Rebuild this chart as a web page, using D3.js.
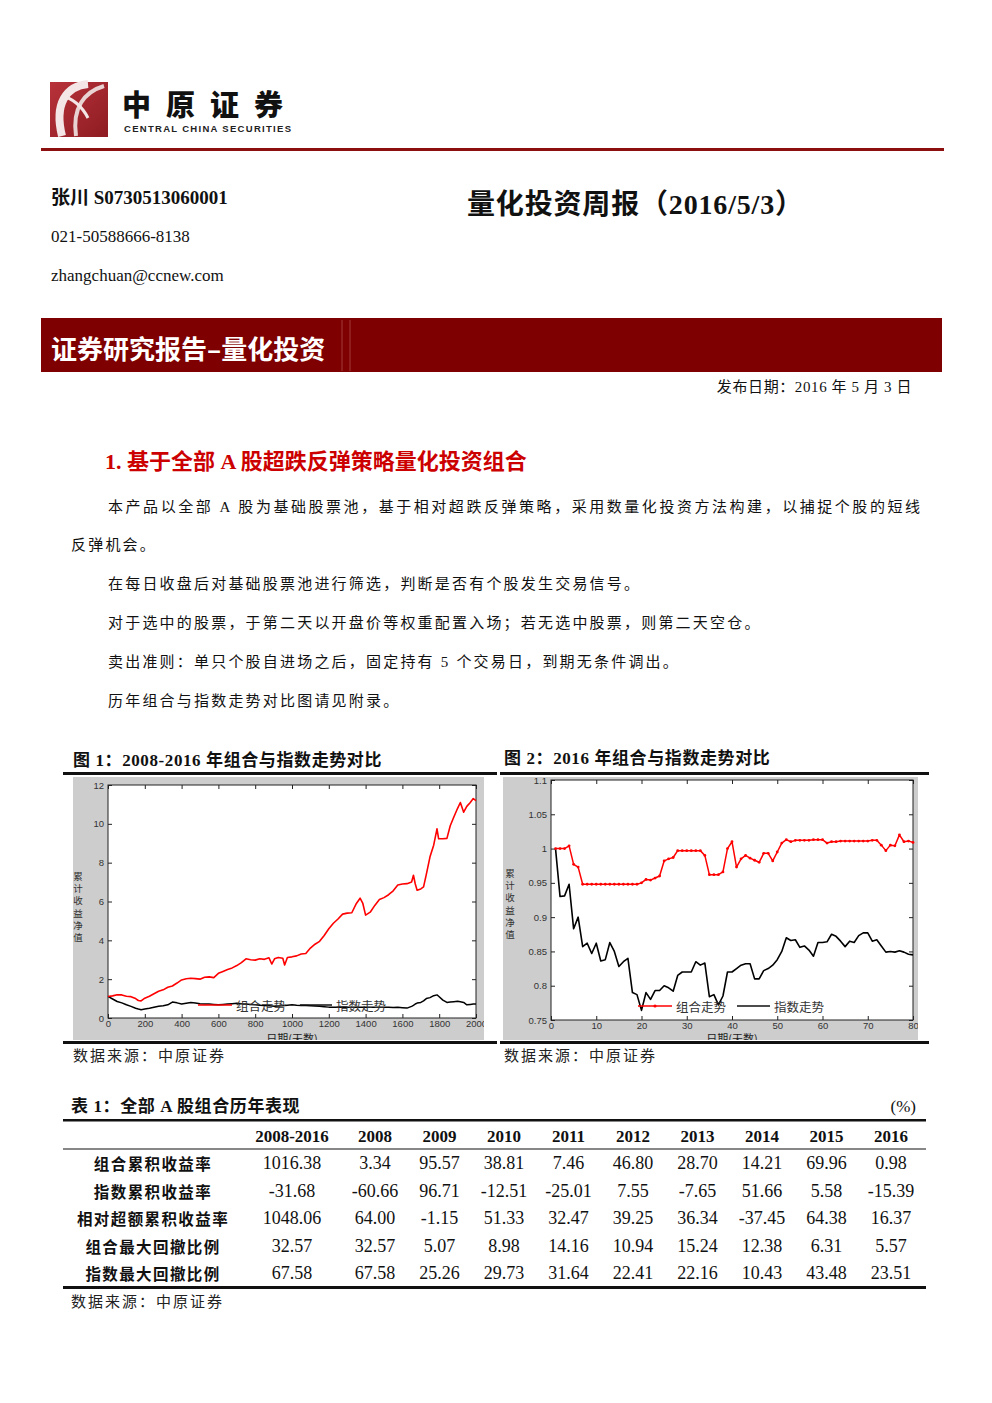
<!DOCTYPE html>
<html><head><meta charset="utf-8">
<script src="https://cdn.jsdelivr.net/npm/d3@7/dist/d3.min.js"></script>
<style>
body{margin:0;background:#fff;}
svg{display:block;}
</style></head><body>
<svg id="page" width="992" height="1403"></svg>
<script>
// ---------------- DATA ----------------
// Figure 1: 2008-2016 (trading days)
const longDays = [0,25,50,75,100,125,150,165,180,200,225,250,275,300,325,350,375,400,425,450,475,500,525,550,575,600,625,650,675,700,725,750,775,800,825,850,875,890,905,925,950,960,975,1000,1025,1050,1075,1100,1125,1150,1175,1200,1225,1250,1275,1300,1325,1350,1370,1385,1400,1425,1450,1475,1500,1525,1550,1575,1600,1625,1650,1660,1670,1680,1700,1715,1730,1750,1770,1788,1797,1820,1842,1860,1879,1900,1915,1933,1950,1969,1985,2000];
const longPortfolio = [1.11,1.14,1.2,1.19,1.12,1.1,1.0,0.9,0.88,1.02,1.12,1.25,1.38,1.45,1.58,1.65,1.8,1.96,2.02,2.05,2.03,2.0,2.1,2.12,2.08,2.3,2.4,2.5,2.58,2.7,2.85,3.05,3.0,2.98,3.05,3.02,3.1,2.78,3.05,3.12,3.08,2.73,3.12,3.15,3.2,3.3,3.32,3.6,3.8,3.95,4.25,4.6,4.88,5.1,5.35,5.4,5.42,5.9,6.17,5.9,5.3,5.45,5.8,6.1,6.2,6.35,6.55,6.85,6.9,6.92,7.0,7.35,6.9,6.58,6.65,6.75,7.4,8.3,8.9,9.74,9.23,9.23,9.25,9.9,10.34,10.8,11.1,10.6,10.9,11.1,11.3,11.2];
const longIndex = [1.11,0.98,0.85,0.78,0.68,0.6,0.5,0.46,0.43,0.46,0.5,0.55,0.6,0.63,0.68,0.82,0.78,0.72,0.76,0.8,0.77,0.74,0.72,0.72,0.7,0.68,0.7,0.72,0.74,0.76,0.73,0.72,0.7,0.68,0.66,0.65,0.63,0.62,0.6,0.62,0.63,0.64,0.66,0.68,0.66,0.65,0.64,0.63,0.62,0.6,0.58,0.56,0.56,0.56,0.57,0.56,0.55,0.55,0.55,0.56,0.56,0.56,0.56,0.55,0.55,0.55,0.54,0.55,0.53,0.51,0.6,0.65,0.72,0.77,0.8,0.88,1.0,1.05,1.15,1.19,1.12,0.92,0.8,0.82,0.84,0.86,0.84,0.8,0.68,0.7,0.72,0.72];
const longXTicks = [0,200,400,600,800,1000,1200,1400,1600,1800,2000];
const longYTicks = [0,2,4,6,8,10,12];

// Figure 2: 2016
const days2016 = [1,2,3,4,5,6,7,8,9,10,11,12,13,14,15,16,17,18,19,20,21,22,23,24,25,26,27,28,29,30,31,32,33,34,35,36,37,38,39,40,41,42,43,44,45,46,47,48,49,50,51,52,53,54,55,56,57,58,59,60,61,62,63,64,65,66,67,68,69,70,71,72,73,74,75,76,77,78,79,80];
const portfolio2016 = [1.0,1.0,1.0,1.004,0.977,0.973,0.948,0.948,0.948,0.948,0.948,0.948,0.948,0.948,0.948,0.948,0.948,0.948,0.948,0.95,0.955,0.954,0.957,0.96,0.982,0.985,0.987,0.997,0.997,0.997,0.997,0.997,0.997,0.99,0.962,0.962,0.962,0.966,1.0,1.01,0.973,0.985,0.99,0.986,0.983,0.98,0.993,0.993,0.982,0.995,1.008,1.013,1.01,1.012,1.012,1.012,1.012,1.013,1.013,1.013,1.008,1.01,1.01,1.011,1.011,1.011,1.011,1.011,1.011,1.011,1.012,1.012,1.005,0.997,1.005,1.004,1.02,1.01,1.011,1.009];
const index2016 = [1.0,0.93,0.931,0.948,0.883,0.9,0.857,0.862,0.847,0.862,0.836,0.838,0.863,0.85,0.828,0.835,0.84,0.79,0.787,0.764,0.79,0.78,0.793,0.793,0.8,0.797,0.792,0.815,0.82,0.82,0.82,0.835,0.83,0.833,0.784,0.787,0.772,0.785,0.82,0.82,0.825,0.83,0.832,0.832,0.81,0.81,0.822,0.825,0.83,0.838,0.85,0.87,0.866,0.867,0.856,0.858,0.852,0.843,0.863,0.863,0.864,0.875,0.872,0.865,0.857,0.865,0.863,0.873,0.877,0.877,0.865,0.867,0.858,0.849,0.85,0.849,0.851,0.849,0.846,0.845];
const shortXTicks = [0,10,20,30,40,50,60,70,80];
const shortYTicks = [0.75,0.8,0.85,0.9,0.95,1,1.05,1.1];

const seriesNames = ["组合走势","指数走势"];
const yAxisTitle = "累计收益净值";
const xAxisTitle = "日期(天数)";

// Table 1
const tableColumns = ["2008-2016","2008","2009","2010","2011","2012","2013","2014","2015","2016"];
const tableRowLabels = ["组合累积收益率","指数累积收益率","相对超额累积收益率","组合最大回撤比例","指数最大回撤比例"];
const rowPortfolioReturn = ["1016.38","3.34","95.57","38.81","7.46","46.80","28.70","14.21","69.96","0.98"];
const rowIndexReturn = ["-31.68","-60.66","96.71","-12.51","-25.01","7.55","-7.65","51.66","5.58","-15.39"];
const rowExcessReturn = ["1048.06","64.00","-1.15","51.33","32.47","39.25","36.34","-37.45","64.38","16.37"];
const rowPortfolioDrawdown = ["32.57","32.57","5.07","8.98","14.16","10.94","15.24","12.38","6.31","5.57"];
const rowIndexDrawdown = ["67.58","67.58","25.26","29.73","31.64","22.41","22.16","10.43","43.48","23.51"];

// ---------------- DRAW ----------------
const svg = d3.select("#page");
const CJK = "'Noto Sans CJK SC', sans-serif";
const SERIF = "'Liberation Serif', 'Noto Sans CJK SC', serif";
const SANS = "'Liberation Sans', Arial, sans-serif";
const defs = svg.append("defs");

function txt(x, y, s, opt = {}) {
  const t = svg.append("text")
    .attr("x", x).attr("y", y)
    .attr("dominant-baseline", "central")
    .attr("font-family", opt.family || SERIF)
    .attr("font-size", opt.size || 15)
    .attr("font-weight", opt.weight || 400)
    .attr("fill", opt.fill || "#111")
    .attr("text-anchor", opt.anchor || "start")
    .text(s);
  if (opt.ls != null) t.attr("letter-spacing", opt.ls);
  if (opt.len) t.attr("textLength", opt.len).attr("lengthAdjust", "spacing");
  return t;
}

// ---- Logo ----
const grad = defs.append("linearGradient").attr("id", "logoGrad").attr("x1", 0).attr("y1", 0).attr("x2", 1).attr("y2", 1);
grad.append("stop").attr("offset", "0%").attr("stop-color", "#b8323a");
grad.append("stop").attr("offset", "100%").attr("stop-color", "#8e1c22");
svg.append("rect").attr("x", 50).attr("y", 82).attr("width", 58).attr("height", 55).attr("fill", "url(#logoGrad)");
svg.append("path").attr("d", "M88,84 C66,86 54,104 62,136").attr("fill", "none").attr("stroke", "#f4e6e6").attr("stroke-width", 8);
svg.append("path").attr("d", "M104,86 C84,92 72,108 76,136").attr("fill", "none").attr("stroke", "#e9d2d2").attr("stroke-width", 4);
svg.append("path").attr("d", "M62,96 C72,98 82,106 88,118").attr("fill", "none").attr("stroke", "#f4e6e6").attr("stroke-width", 3);
txt(122, 103, "中原证券", {family: CJK, size: 29, weight: 900, fill: "#111", ls: 15});
txt(124, 128.5, "CENTRAL CHINA SECURITIES", {family: SANS, size: 9.5, weight: 700, fill: "#222", len: 167});

// top divider
svg.append("rect").attr("x", 41).attr("y", 148).attr("width", 903).attr("height", 3).attr("fill", "#8c1010");

// author block
txt(51, 197, "张川  S0730513060001", {size: 19, weight: 700});
txt(51, 236, "021-50588666-8138", {size: 17});
txt(51, 275, "zhangchuan@ccnew.com", {size: 17});
txt(467, 204, "量化投资周报（2016/5/3）", {size: 28, weight: 700, len: 336});

// banner
svg.append("rect").attr("x", 41).attr("y", 318).attr("width", 901).attr("height", 54).attr("fill", "#7f0000");
svg.append("line").attr("x1", 342).attr("x2", 342).attr("y1", 320).attr("y2", 371).attr("stroke", "#a33a3a").attr("stroke-width", 1);
svg.append("line").attr("x1", 350).attr("x2", 350).attr("y1", 320).attr("y2", 371).attr("stroke", "#a33a3a").attr("stroke-width", 1);
txt(51, 347, "证券研究报告–量化投资", {family: CJK, size: 26, weight: 700, fill: "#fff"});
txt(912, 387, "发布日期：2016 年 5 月 3 日", {size: 15, anchor: "end", ls: 0.6});

// section heading
txt(105, 461, "1. 基于全部 A 股超跌反弹策略量化投资组合", {size: 22, weight: 700, fill: "#cc0000"});

// body
txt(108, 507, "本产品以全部 A 股为基础股票池，基于相对超跌反弹策略，采用数量化投资方法构建，以捕捉个股的短线", {size: 15, len: 812});
txt(71, 545, "反弹机会。", {size: 15, ls: 2.2});
txt(108, 584, "在每日收盘后对基础股票池进行筛选，判断是否有个股发生交易信号。", {size: 15, ls: 2.2});
txt(108, 623, "对于选中的股票，于第二天以开盘价等权重配置入场；若无选中股票，则第二天空仓。", {size: 15, ls: 2.2});
txt(108, 662, "卖出准则：单只个股自进场之后，固定持有 5 个交易日，到期无条件调出。", {size: 15, ls: 2.2});
txt(108, 701, "历年组合与指数走势对比图请见附录。", {size: 15, ls: 2.2});

// figure titles + frame lines
txt(73, 760, "图 1：2008-2016 年组合与指数走势对比", {size: 17, weight: 700, ls: 0.6});
txt(504, 758, "图 2：2016 年组合与指数走势对比", {size: 17, weight: 700, ls: 0.6});
[[63, 497], [500, 929]].forEach(([a, b]) => {
  svg.append("rect").attr("x", a).attr("y", 772).attr("width", b - a).attr("height", 3).attr("fill", "#111");
  svg.append("rect").attr("x", a).attr("y", 1041).attr("width", b - a).attr("height", 3).attr("fill", "#111");
});
txt(73, 1056, "数据来源：中原证券", {size: 15, ls: 2, fill: "#222"});
txt(504, 1056, "数据来源：中原证券", {size: 15, ls: 2, fill: "#222"});

// ---- chart helper ----
function drawChart(cfg) {
  const clipId = cfg.id + "-clip";
  defs.append("clipPath").attr("id", clipId).append("rect")
    .attr("x", cfg.panel[0]).attr("y", cfg.panel[1]).attr("width", cfg.panel[2]).attr("height", cfg.panel[3]);
  const g = svg.append("g").attr("clip-path", `url(#${clipId})`);
  g.append("rect").attr("x", cfg.panel[0]).attr("y", cfg.panel[1]).attr("width", cfg.panel[2]).attr("height", cfg.panel[3]).attr("fill", "#cdcdcd");
  const x = d3.scaleLinear().domain(cfg.xDomain).range([cfg.left, cfg.right]);
  const y = d3.scaleLinear().domain(cfg.yDomain).range([cfg.bottom, cfg.top]);
  g.append("rect").attr("x", cfg.left).attr("y", cfg.top).attr("width", cfg.right - cfg.left).attr("height", cfg.bottom - cfg.top).attr("fill", "#fff");

  const styleAxis = (sel) => {
    sel.select(".domain").remove();
    sel.selectAll(".tick line").attr("stroke", "#222");
    sel.selectAll("text").attr("font-family", SANS).attr("font-size", 9.5).attr("fill", "#333");
  };
  g.append("g").attr("transform", `translate(0,${cfg.bottom})`)
    .call(d3.axisBottom(x).tickValues(cfg.xTicks).tickSize(-4).tickPadding(2).tickFormat(d3.format("d"))).call(styleAxis);
  g.append("g").attr("transform", `translate(0,${cfg.top})`)
    .call(d3.axisTop(x).tickValues(cfg.xTicks).tickSize(-4).tickFormat("")).call(styleAxis);
  g.append("g").attr("transform", `translate(${cfg.left},0)`)
    .call(d3.axisLeft(y).tickValues(cfg.yTicks).tickSize(-4).tickPadding(4).tickFormat(d => String(+d.toFixed(2)))).call(styleAxis);
  g.append("g").attr("transform", `translate(${cfg.right},0)`)
    .call(d3.axisRight(y).tickValues(cfg.yTicks).tickSize(-4).tickFormat("")).call(styleAxis);
  g.append("rect").attr("x", cfg.left).attr("y", cfg.top).attr("width", cfg.right - cfg.left).attr("height", cfg.bottom - cfg.top)
    .attr("fill", "none").attr("stroke", "#222").attr("stroke-width", 1);

  const line = d3.line().x(d => x(d[0])).y(d => y(d[1]));
  const plot = g.append("g");
  plot.append("path").datum(cfg.xs.map((d, i) => [d, cfg.idx[i]]))
    .attr("d", line).attr("fill", "none").attr("stroke", "#000").attr("stroke-width", cfg.wIdx).attr("stroke-linejoin", "round");
  plot.append("path").datum(cfg.xs.map((d, i) => [d, cfg.port[i]]))
    .attr("d", line).attr("fill", "none").attr("stroke", "#ff0000").attr("stroke-width", cfg.wPort).attr("stroke-linejoin", "round");
  if (cfg.markers) {
    plot.selectAll("circle.m").data(cfg.xs.map((d, i) => [d, cfg.port[i]])).join("circle")
      .attr("cx", d => x(d[0])).attr("cy", d => y(d[1])).attr("r", 1.4).attr("fill", "#ff0000");
  }

  // legend
  const L = cfg.legend;
  g.append("line").attr("x1", L.r0).attr("x2", L.r1).attr("y1", L.y).attr("y2", L.y).attr("stroke", "#ff0000").attr("stroke-width", 1.5);
  if (cfg.markers) g.append("circle").attr("cx", (L.r0 + L.r1) / 2).attr("cy", L.y).attr("r", 1.6).attr("fill", "#ff0000");
  g.append("text").attr("x", L.r1 + 4).attr("y", L.y).attr("dominant-baseline", "central")
    .attr("font-family", CJK).attr("font-size", 12.5).attr("fill", "#333").text(seriesNames[0]);
  g.append("line").attr("x1", L.b0).attr("x2", L.b1).attr("y1", L.y).attr("y2", L.y).attr("stroke", "#111").attr("stroke-width", 1.5);
  g.append("text").attr("x", L.b1 + 4).attr("y", L.y).attr("dominant-baseline", "central")
    .attr("font-family", CJK).attr("font-size", 12.5).attr("fill", "#333").text(seriesNames[1]);

  // axis titles
  g.append("text").attr("x", (cfg.left + cfg.right) / 2).attr("y", 1037.5).attr("text-anchor", "middle")
    .attr("dominant-baseline", "central").attr("font-family", CJK).attr("font-size", 11).attr("fill", "#222").text(xAxisTitle);
  Array.from(yAxisTitle).forEach((ch, i) => {
    g.append("text").attr("x", cfg.ylabX).attr("y", cfg.ylabY + i * 12.2).attr("text-anchor", "middle")
      .attr("dominant-baseline", "central").attr("font-family", CJK).attr("font-size", 9.5).attr("fill", "#333").text(ch);
  });
}

drawChart({
  id: "c1", panel: [73, 777, 411, 263],
  left: 108, right: 476, top: 785, bottom: 1018,
  xDomain: [0, 2000], yDomain: [0, 12], xTicks: longXTicks, yTicks: longYTicks,
  xs: longDays, port: longPortfolio, idx: longIndex, wPort: 1.6, wIdx: 1.5, markers: false,
  legend: {y: 1005, r0: 198, r1: 232, b0: 300, b1: 332},
  ylabX: 78, ylabY: 876
});
drawChart({
  id: "c2", panel: [503, 777, 415, 263],
  left: 551, right: 913, top: 780, bottom: 1020,
  xDomain: [0, 80], yDomain: [0.75, 1.1], xTicks: shortXTicks, yTicks: shortYTicks,
  xs: days2016, port: portfolio2016, idx: index2016, wPort: 1.5, wIdx: 1.6, markers: true,
  legend: {y: 1006, r0: 638, r1: 672, b0: 737, b1: 770},
  ylabX: 510, ylabY: 873
});

// ---- Table ----
txt(71, 1106, "表 1：全部 A 股组合历年表现", {size: 17, weight: 700, ls: 0.6});
txt(916, 1106, "(%)", {size: 17, anchor: "end"});
svg.append("rect").attr("x", 63).attr("y", 1119).attr("width", 863).attr("height", 2.5).attr("fill", "#111");
svg.append("rect").attr("x", 63).attr("y", 1148.5).attr("width", 863).attr("height", 1).attr("fill", "#111");
svg.append("rect").attr("x", 63).attr("y", 1286).attr("width", 863).attr("height", 3).attr("fill", "#111");

const yearScale = d3.scalePoint().domain(tableColumns.slice(1)).range([375, 891]);
const colX = c => c === tableColumns[0] ? 292 : yearScale(c);
const rowScale = d3.scalePoint().domain(tableRowLabels).range([1163, 1273]);
tableColumns.forEach(c => txt(colX(c), 1136, c, {size: 17, weight: 700, anchor: "middle"}));
const tableRows = [rowPortfolioReturn, rowIndexReturn, rowExcessReturn, rowPortfolioDrawdown, rowIndexDrawdown];
tableRowLabels.forEach((lab, i) => {
  txt(153, rowScale(lab), lab, {family: CJK, size: 15.5, weight: 700, anchor: "middle", ls: 1.4});
  tableRows[i].forEach((v, j) => txt(colX(tableColumns[j]), rowScale(lab), v, {size: 18, anchor: "middle"}));
});
txt(71, 1302, "数据来源：中原证券", {size: 15, ls: 2, fill: "#222"});
</script>
</body></html>
